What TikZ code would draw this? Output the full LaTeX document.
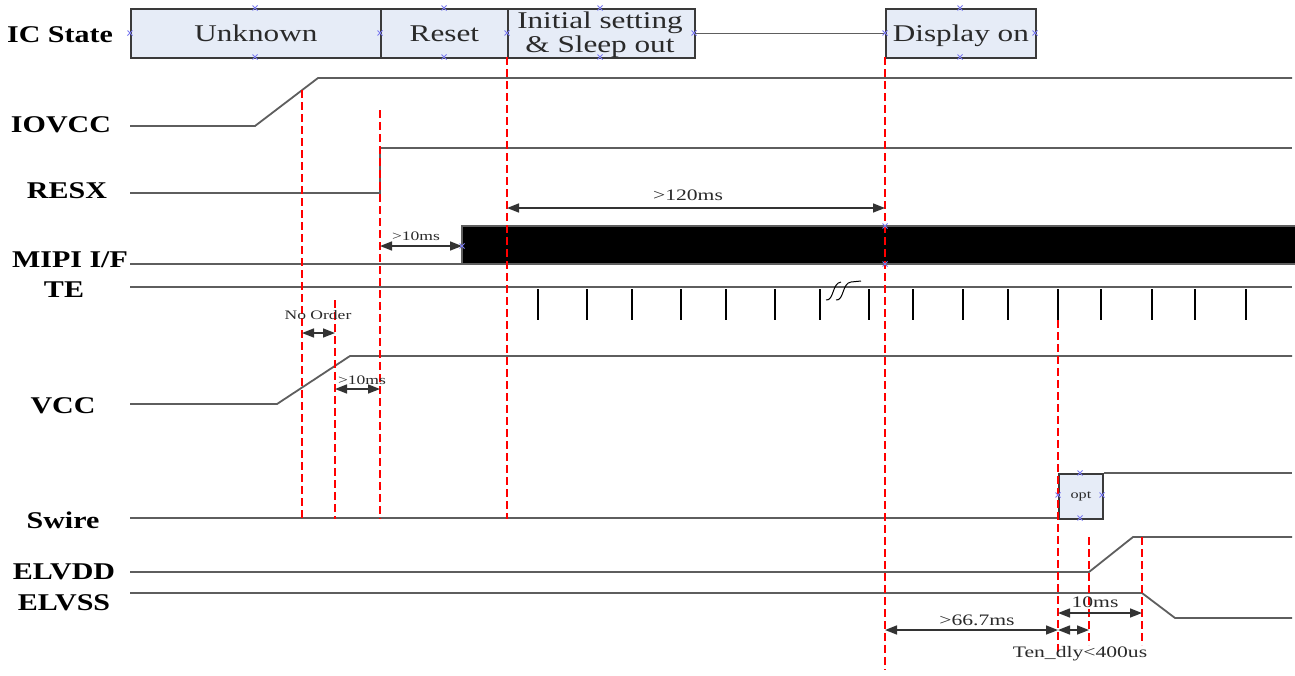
\documentclass[tikz,border=0pt]{standalone}
\usepackage{fontspec}
\setmainfont{Liberation Serif}
\newfontfamily\labfont[FakeStretch=1.25]{Liberation Serif}
\newfontfamily\stfont[FakeStretch=1.3]{Liberation Serif}
\newfontfamily\smfont[FakeStretch=1.35]{Liberation Serif}
\usetikzlibrary{arrows.meta}
\definecolor{sigc}{HTML}{5E5E5E}
\definecolor{boxfill}{HTML}{E6ECF7}
\definecolor{boxc}{HTML}{3A3A3A}
\definecolor{txtc}{HTML}{2A2A2A}
\definecolor{markc}{HTML}{7A7AF0}
\begin{document}
\begin{tikzpicture}[x=1pt,y=-1pt,
  sigline/.style={draw=sigc,line width=1.8pt,line join=miter},
  statebox/.style={draw=boxc,line width=1.8pt,fill=boxfill,inner sep=0pt,anchor=north west,
     font=\stfont\fontsize{24}{24}\selectfont,text=txtc,align=center,text height=17pt,text depth=0pt},
  sttext/.style={font=\stfont\fontsize{24}{24}\selectfont,text=txtc,anchor=base,inner sep=0pt},
  lab/.style={font=\labfont\bfseries\fontsize{24}{24}\selectfont,anchor=base,inner sep=0pt,text=black},
  meas/.style={font=\smfont\fontsize{16}{16}\selectfont,anchor=base,inner sep=0pt,text=txtc},
  tinyt/.style={font=\smfont\fontsize{13}{13}\selectfont,anchor=base,inner sep=0pt,text=txtc},
  reddash/.style={draw=red,line width=1.4pt,dash pattern=on 8pt off 4pt},
  dim/.style={draw=black!80,line width=1.5pt,{Triangle[length=12pt,width=9pt]}-{Triangle[length=12pt,width=9pt]}},
  tetick/.style={draw=black,line width=1.5pt},
  bx/.pic={\draw[markc,line width=0.9pt] (-2.5,-2.5)--(2.5,2.5) (-2.5,2.5)--(2.5,-2.5);}
]
\useasboundingbox (0,0) rectangle (1295,675);
\fill[white] (0,0) rectangle (1295,675);

% ---- labels
\node[lab] (lic) at (60,42) {IC State};
\node[lab] (liovcc) at (61,132) {IOVCC};
\node[lab] (lresx) at (67,198) {RESX};
\node[lab] (lmipi) at (70,267) {MIPI I/F};
\node[lab] (lte) at (64,297) {TE};
\node[lab] (lvcc) at (63,413) {VCC};
\node[lab] (lswire) at (63,528) {Swire};
\node[lab] (lelvdd) at (64,579) {ELVDD};
\node[lab] (lelvss) at (64,610) {ELVSS};

% ---- IC state boxes
\node[statebox,minimum width=250pt,minimum height=49pt] (unk) at (130,8) {Unknown};
\node[statebox,minimum width=127pt,minimum height=49pt] (rst) at (380,8) {Reset};
\node[statebox,minimum width=187pt,minimum height=49pt] (init) at (507,8) {};
\node[sttext] (initA) at (600,28) {Initial setting};
\node[sttext] (initB) at (600,52) {\& Sleep out};
\node[statebox,minimum width=150pt,minimum height=49pt] (disp) at (885,8) {Display on};
\draw[sigline] (init.east) -- (disp.west);

% ---- signals
\draw[sigline] (130,126) -- (255,126) -- (318,78) -- (1292,78);
\draw[sigline] (130,193) -- (380,193) -- (380,148) -- (1292,148);
\draw[sigline] (130,264) -- (462,264);
\draw[draw=sigc,line width=1.5pt,fill=black] (1295,226) -- (462,226) -- (462,264) -- (1295,264);
\draw[sigline] (130,287) -- (1292,287);
\foreach \tx in {538,587,632,681,726,775,820,869,913,963,1008,1058,1101,1152,1195,1246}
  \draw[tetick] (\tx,289) -- (\tx,320);
% break symbol
\draw[black,line width=1pt] (826,300) .. controls (834,301) and (832,283) .. (841,282);
\draw[black,line width=1pt] (836,300) .. controls (844,301) and (842,283) .. (851,282) -- (861,281);
\draw[sigline] (130,404) -- (277,404) -- (350,356) -- (1292,356);
\draw[sigline] (130,518) -- (1058,518);
\node[draw=boxc,line width=1.8pt,fill=boxfill,anchor=north west,minimum width=44pt,minimum height=45pt,inner sep=0pt,
      font=\smfont\fontsize{12}{12}\selectfont,text=txtc] (opt) at (1058,473) {opt};
\draw[sigline] (opt.north east) -- (1292,473);
\draw[sigline] (130,572) -- (1089,572) -- (1133,537) -- (1292,537);
\draw[sigline] (130,593) -- (1142,593) -- (1175,618) -- (1292,618);

% ---- red dashed markers
\draw[reddash] (302,90) -- (302,519);
\draw[reddash] (335,300) -- (335,519);
\draw[reddash] (380,110) -- (380,519);
\draw[reddash] (507,57) -- (507,519);
\draw[reddash] (885,57) -- (885,670);
\draw[reddash] (1058,320) -- (1058,655);
\draw[reddash] (1089,537) -- (1089,645);
\draw[reddash] (1142,537) -- (1142,645);

% ---- dimensions
\draw[dim] (507,208) -- (885,208);
\node[meas] (t120) at (688,200) {>120ms};
\draw[dim] (380,246) -- (462,246);
\node[tinyt] (t10a) at (416,240) {>10ms};
\draw[dim] (302,333) -- (335,333);
\node[tinyt] (tno) at (318,319) {No Order};
\draw[dim] (335,389) -- (380,389);
\node[tinyt] (t10b) at (362,384) {>10ms};
\draw[dim] (885,630) -- (1058,630);
\node[meas] (t667) at (977,625) {>66.7ms};
\draw[dim] (1058,630) -- (1089,630);
\node[meas] (tdly) at (1080,657) {Ten\_dly<400us};
\draw[dim] (1058,613) -- (1142,613);
\node[meas] (t10c) at (1095,607) {10ms};

% ---- connection point marks
\foreach \p in {(255,8),(255,57),(130,33),(380,33),(444,8),(444,57),(507,33),(600,8),(600,57),(694,33),
  (960,8),(960,57),(885,33),(1035,33),(885,226),(885,264),(462,246),(1080,473),(1080,518),(1058,495),(1102,495)}
  \pic at \p {bx};
\end{tikzpicture}
\end{document}
